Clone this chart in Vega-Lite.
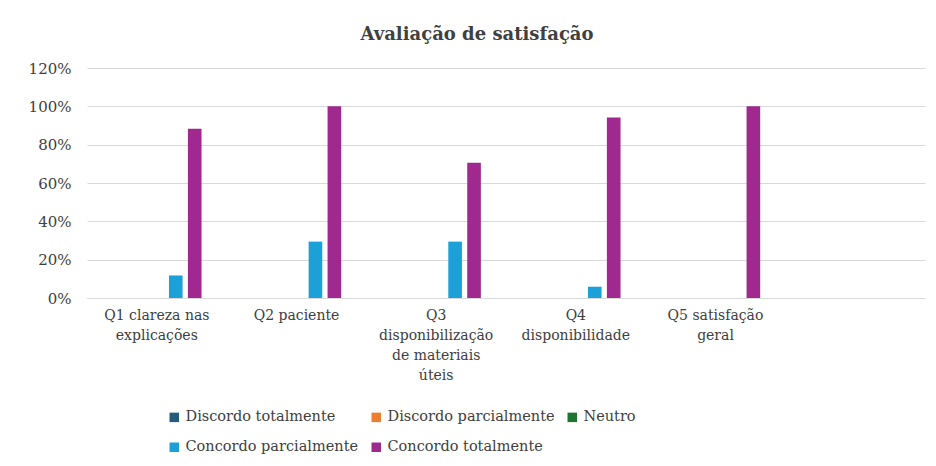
{
  "$schema": "https://vega.github.io/schema/vega-lite/v6.json",
  "width": 838,
  "height": 230,
  "autosize": {"type": "none"},
  "padding": {"left": 87, "top": 68, "right": 11, "bottom": 168},
  "background": "white",
  "title": {
    "text": "Avaliação de satisfação",
    "font": "DejaVu Serif",
    "fontSize": 18,
    "fontWeight": "bold",
    "color": "#404040",
    "anchor": "middle",
    "frame": "group",
    "dx": -29,
    "offset": 17
  },
  "data": {
    "values": [
      {"q": "Q1 clareza nas|explicações", "resposta": "Discordo totalmente", "pct": 0},
      {"q": "Q1 clareza nas|explicações", "resposta": "Discordo parcialmente", "pct": 0},
      {"q": "Q1 clareza nas|explicações", "resposta": "Neutro", "pct": 0},
      {"q": "Q1 clareza nas|explicações", "resposta": "Concordo parcialmente", "pct": 0.1176},
      {"q": "Q1 clareza nas|explicações", "resposta": "Concordo totalmente", "pct": 0.8824},
      {"q": "Q2 paciente", "resposta": "Discordo totalmente", "pct": 0},
      {"q": "Q2 paciente", "resposta": "Discordo parcialmente", "pct": 0},
      {"q": "Q2 paciente", "resposta": "Neutro", "pct": 0},
      {"q": "Q2 paciente", "resposta": "Concordo parcialmente", "pct": 0.2941},
      {"q": "Q2 paciente", "resposta": "Concordo totalmente", "pct": 1.0},
      {"q": "Q3|disponibilização|de materiais|úteis", "resposta": "Discordo totalmente", "pct": 0},
      {"q": "Q3|disponibilização|de materiais|úteis", "resposta": "Discordo parcialmente", "pct": 0},
      {"q": "Q3|disponibilização|de materiais|úteis", "resposta": "Neutro", "pct": 0},
      {"q": "Q3|disponibilização|de materiais|úteis", "resposta": "Concordo parcialmente", "pct": 0.2941},
      {"q": "Q3|disponibilização|de materiais|úteis", "resposta": "Concordo totalmente", "pct": 0.7059},
      {"q": "Q4|disponibilidade", "resposta": "Discordo totalmente", "pct": 0},
      {"q": "Q4|disponibilidade", "resposta": "Discordo parcialmente", "pct": 0},
      {"q": "Q4|disponibilidade", "resposta": "Neutro", "pct": 0},
      {"q": "Q4|disponibilidade", "resposta": "Concordo parcialmente", "pct": 0.0588},
      {"q": "Q4|disponibilidade", "resposta": "Concordo totalmente", "pct": 0.9412},
      {"q": "Q5 satisfação|geral", "resposta": "Discordo totalmente", "pct": 0},
      {"q": "Q5 satisfação|geral", "resposta": "Discordo parcialmente", "pct": 0},
      {"q": "Q5 satisfação|geral", "resposta": "Neutro", "pct": 0},
      {"q": "Q5 satisfação|geral", "resposta": "Concordo parcialmente", "pct": 0},
      {"q": "Q5 satisfação|geral", "resposta": "Concordo totalmente", "pct": 1.0}
    ]
  },
  "mark": {"type": "bar"},
  "encoding": {
    "x": {
      "field": "q",
      "type": "nominal",
      "sort": null,
      "scale": {
        "domain": ["Q1 clareza nas|explicações", "Q2 paciente", "Q3|disponibilização|de materiais|úteis", "Q4|disponibilidade", "Q5 satisfação|geral", " "],
        "paddingInner": 0.36,
        "paddingOuter": 0.18
      },
      "axis": {
        "title": null,
        "labelAngle": 0,
        "labelExpr": "split(datum.value, '|')",
        "labelFont": "DejaVu Serif",
        "labelFontSize": 14,
        "labelColor": "#404040",
        "labelLineHeight": 20,
        "labelPadding": 10,
        "labelBaseline": "top",
        "ticks": false,
        "domainColor": "#d9d9d9",
        "domainWidth": 1,
        "labelLimit": 300
      }
    },
    "xOffset": {
      "field": "resposta",
      "type": "nominal",
      "sort": ["Discordo totalmente", "Discordo parcialmente", "Neutro", "Concordo parcialmente", "Concordo totalmente"],
      "scale": {"paddingInner": 0.28, "paddingOuter": 0}
    },
    "y": {
      "field": "pct",
      "type": "quantitative",
      "scale": {"domain": [0, 1.2], "nice": false},
      "axis": {
        "title": null,
        "format": ".0%",
        "values": [0, 0.2, 0.4, 0.6, 0.8, 1.0, 1.2],
        "labelFont": "DejaVu Serif",
        "labelFontSize": 15,
        "labelColor": "#404040",
        "labelPadding": 16,
        "ticks": false,
        "domain": false,
        "gridColor": "#d9d9d9",
        "gridWidth": 1
      }
    },
    "color": {
      "field": "resposta",
      "type": "nominal",
      "sort": ["Discordo totalmente", "Discordo parcialmente", "Neutro", "Concordo parcialmente", "Concordo totalmente"],
      "scale": {
        "domain": ["Discordo totalmente", "Discordo parcialmente", "Neutro", "Concordo parcialmente", "Concordo totalmente"],
        "range": ["#235d7c", "#ed7d31", "#1e7432", "#1ba1d8", "#a0298f"]
      },
      "legend": {
        "title": null,
        "orient": "none",
        "legendX": 80,
        "legendY": 342,
        "direction": "horizontal",
        "columns": 3,
        "symbolType": "square",
        "symbolSize": 90,
        "symbolStrokeWidth": 0,
        "labelFont": "DejaVu Serif",
        "labelFontSize": 14.5,
        "labelColor": "#404040",
        "labelOffset": 4,
        "rowPadding": 15,
        "columnPadding": 10,
        "labelLimit": 300
      }
    }
  },
  "config": {
    "view": {"stroke": null}
  }
}
